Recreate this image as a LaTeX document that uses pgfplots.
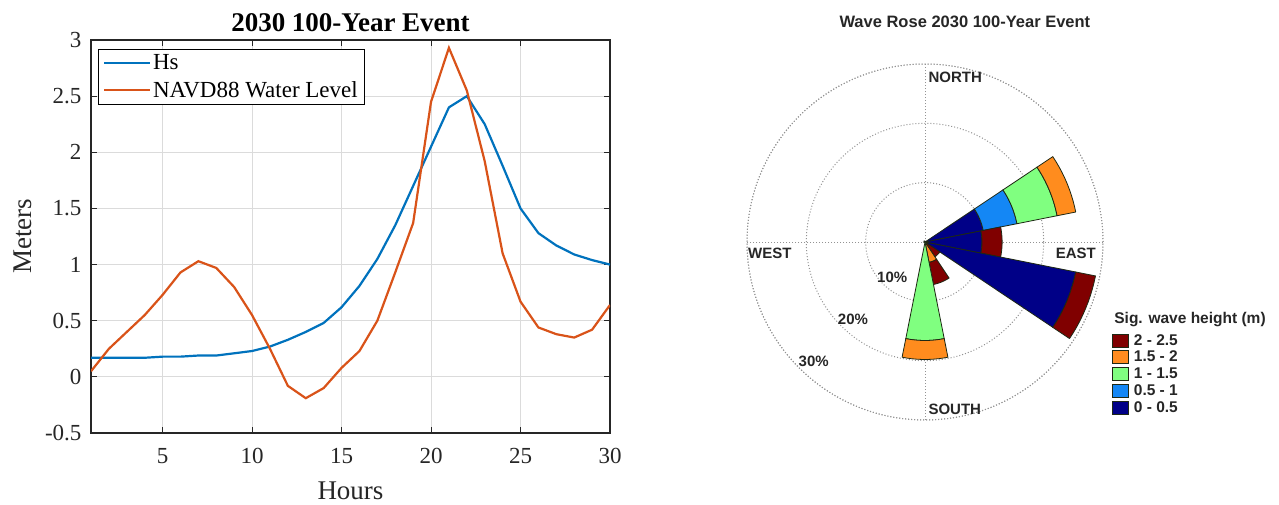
\documentclass[border=0pt]{standalone}
\usepackage{pgfplots}
\pgfplotsset{compat=1.18}
\usepgfplotslibrary{polar}
\usepackage{fontspec}
\setmainfont{Liberation Serif}
\newfontfamily\arialf{Liberation Sans}
\definecolor{hscol}{RGB}{0,114,189}
\definecolor{wlcol}{RGB}{217,83,25}
\definecolor{cR}{RGB}{128,0,0}
\definecolor{cO}{RGB}{255,140,30}
\definecolor{cG}{RGB}{128,255,128}
\definecolor{cB}{RGB}{20,135,245}
\definecolor{cD}{RGB}{0,0,135}
\definecolor{wedge}{RGB}{30,40,20}
\definecolor{axgray}{RGB}{38,38,38}

% wedge segment: #1 direction (deg, math), #2 inner %, #3 outer %, #4 colour
\newcommand\wseg[4]{%
  \gdef\wcoords{}%
  \foreach \k in {0,...,10}{%
    \pgfmathsetmacro\wang{#1-11.25+2.25*\k}%
    \xdef\wcoords{\wcoords (\wang,#3)}%
  }%
  \foreach \k in {10,...,0}{%
    \pgfmathsetmacro\wang{#1-11.25+2.25*\k}%
    \xdef\wcoords{\wcoords (\wang,#2)}%
  }%
  \pgfmathsetmacro\wang{#1-11.25}%
  \xdef\wcoords{\wcoords (\wang,#3)}%
  \edef\wtmp{\noexpand\addplot[fill=#4,draw=wedge,line width=0.8pt,forget plot] coordinates {\wcoords};}%
  \wtmp
}

\begin{document}
\begin{tikzpicture}
\useasboundingbox (0,0) rectangle (1279pt,504pt);
\begin{axis}[
  at={(91pt,71pt)}, anchor=south west,
  scale only axis, width=519pt, height=393pt,
  xmin=1, xmax=30, ymin=-0.5, ymax=3,
  xtick={5,10,15,20,25,30},
  xticklabels={5,10,15,20,25,30},
  ytick={-0.5,0,0.5,1,1.5,2,2.5,3},
  yticklabels={-0.5,0,0.5,1,1.5,2,2.5,3},
  /pgf/number format/assume math mode=true,
  tick label style={font=\fontsize{23}{26}\selectfont, text=axgray},
  xticklabel style={yshift=-12pt},
  yticklabel style={xshift=-6pt},
  tick align=inside, major tick length=6pt,
  tick style={axgray, line width=1pt},
  grid=major, major grid style={black!14, line width=0.9pt},
  axis line style={axgray, line width=1.4pt},
  title={\textbf{2030 100-Year Event}},
  title style={font=\fontsize{27}{30}\selectfont, yshift=-1pt},
  xlabel={Hours}, ylabel={Meters},
  label style={font=\fontsize{27}{30}\selectfont, text=axgray},
  xlabel style={yshift=-11pt},
  ylabel style={yshift=6pt},
  legend style={at={(0.013,0.978)}, anchor=north west, draw=black, line width=1.3pt,
    font=\fontsize{23}{26}\selectfont, inner xsep=5pt, inner ysep=4pt, row sep=7pt,
    nodes={inner sep=1.5pt}},
  legend cell align=left,
  legend image code/.code={\draw[#1, line width=2.2pt] (0pt,0pt) -- (46pt,0pt);},
]
\addplot[hscol, line width=2.2pt] coordinates {
(1,0.17) (2,0.17) (3,0.17) (4,0.17) (5,0.18) (6,0.18) (7,0.19) (8,0.19) (9,0.21) (10,0.23)
(11,0.27) (12,0.33) (13,0.40) (14,0.48) (15,0.62) (16,0.81) (17,1.05) (18,1.35) (19,1.70) (20,2.05)
(21,2.40) (22,2.50) (23,2.25) (24,1.88) (25,1.50) (26,1.28) (27,1.17) (28,1.09) (29,1.04) (30,1.00)};
\addlegendentry{Hs}
\addplot[wlcol, line width=2.2pt] coordinates {
(1,0.05) (2,0.25) (3,0.40) (4,0.55) (5,0.73) (6,0.93) (7,1.03) (8,0.97) (9,0.80) (10,0.55)
(11,0.25) (12,-0.08) (13,-0.19) (14,-0.10) (15,0.08) (16,0.23) (17,0.50) (18,0.93) (19,1.37) (20,2.45)
(21,2.93) (22,2.55) (23,1.92) (24,1.10) (25,0.67) (26,0.44) (27,0.38) (28,0.35) (29,0.42) (30,0.64)};
\addlegendentry{NAVD88 Water Level}
\end{axis}

\begin{polaraxis}[
  at={(925pt,262pt)}, anchor=center,
  scale only axis, width=356pt, height=356pt,
  ymin=0, ymax=30,
  xtick={0,90,180,270}, ytick={10,20,30},
  xticklabels={}, yticklabels={},
  major tick length=0pt,
  grid=major,
  major grid style={gray!85, line width=1pt, dash pattern=on 1pt off 2pt},
  axis line style={gray!85, line width=1pt, dash pattern=on 1pt off 2pt},
  clip=false,
  legend style={at={(1.025,0.247)}, anchor=north west, draw=none, fill=none,
    font=\arialf\bfseries\fontsize{15.5}{17}\selectfont, text=black!85,
    row sep=0.5pt, inner sep=0pt, column sep=3pt},
  legend cell align=left,
  legend image code/.code={\draw[#1, draw=wedge, line width=0.8pt] (0pt,-6.5pt) rectangle (16pt,6.5pt);},
]
% ENE
\wseg{22.5}{0}{10}{cD}
\wseg{22.5}{10}{15.8}{cB}
\wseg{22.5}{15.8}{22.7}{cG}
\wseg{22.5}{22.7}{25.9}{cO}
% E
\wseg{0}{0}{9.6}{cD}
\wseg{0}{9.6}{13}{cR}
% ESE
\wseg{-22.5}{0}{25.9}{cD}
\wseg{-22.5}{25.9}{29.3}{cR}
% SE
\wseg{-45}{0}{3}{cR}
% SSE
\wseg{-67.5}{0}{3.5}{cO}
\wseg{-67.5}{3.5}{7.3}{cR}
% S
\wseg{-90}{0}{16.6}{cG}
\wseg{-90}{16.6}{19.8}{cO}

\addlegendimage{fill=cR}\addlegendentry{2 - 2.5}
\addlegendimage{fill=cO}\addlegendentry{1.5 - 2}
\addlegendimage{fill=cG}\addlegendentry{1 - 1.5}
\addlegendimage{fill=cB}\addlegendentry{0.5 - 1}
\addlegendimage{fill=cD}\addlegendentry{0 - 0.5}

\node[anchor=west, font=\arialf\bfseries\fontsize{15}{17}\selectfont, text=black!85] at (axis cs:90,27.7) {NORTH};
\node[anchor=west, font=\arialf\bfseries\fontsize{15}{17}\selectfont, text=black!85] at (axis cs:270,28.2) {SOUTH};
\node[anchor=north east, inner sep=1pt, yshift=-5pt, font=\arialf\bfseries\fontsize{15}{17}\selectfont, text=black!85] at (axis cs:0,29) {EAST};
\node[anchor=north west, inner sep=1pt, yshift=-5pt, font=\arialf\bfseries\fontsize{15}{17}\selectfont, text=black!85] at (axis cs:180,30) {WEST};
\node[font=\arialf\bfseries\fontsize{15}{17}\selectfont, text=black!85] at (axis cs:227,8.1) {10\%};
\node[font=\arialf\bfseries\fontsize{15}{17}\selectfont, text=black!85] at (axis cs:227,17.8) {20\%};
\node[font=\arialf\bfseries\fontsize{15}{17}\selectfont, text=black!85] at (axis cs:227,27.5) {30\%};
\node[anchor=west, font=\arialf\bfseries\fontsize{15.5}{17}\selectfont, text=black!85] at (axis description cs:1.022,0.281) {Sig. wave height (m)};
\node[font=\arialf\bfseries\fontsize{16.5}{19}\selectfont, text=black!85] at (axis description cs:0.612,1.118) {Wave Rose 2030 100-Year Event};
\end{polaraxis}
\end{tikzpicture}
\end{document}
